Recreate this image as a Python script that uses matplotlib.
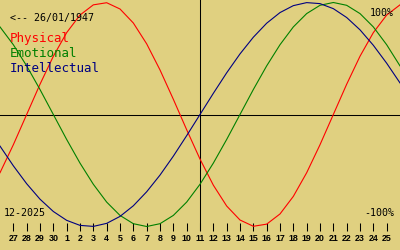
import numpy as np
import matplotlib.pyplot as plt

# days shown: 26 Nov .. 26 Dec 2025
day_labels = ['26', '27', '28', '29', '30', '1', '2', '3', '4', '5', '6', '7', '8', '9', '10',
              '11', '12', '13', '14', '15', '16', '17', '18', '19', '20', '21', '22', '23',
              '24', '25', '26']

physical = [-0.520, -0.270, 0.000, 0.270, 0.520, 0.731, 0.888, 0.979, 0.998, 0.942, 0.817,
            0.631, 0.398, 0.136, -0.136, -0.398, -0.631, -0.817, -0.942, -0.998, -0.979,
            -0.888, -0.731, -0.520, -0.270, 0.000, 0.270, 0.520, 0.731, 0.888, 0.979]
emotional = [0.782, 0.623, 0.434, 0.223, 0.000, -0.223, -0.434, -0.623, -0.782, -0.901,
             -0.975, -1.000, -0.975, -0.901, -0.782, -0.623, -0.434, -0.223, 0.000, 0.223,
             0.434, 0.623, 0.782, 0.901, 0.975, 1.000, 0.975, 0.901, 0.782, 0.623, 0.434]
intellectual = [-0.282, -0.458, -0.618, -0.756, -0.866, -0.945, -0.990, -0.999, -0.972,
                -0.910, -0.815, -0.690, -0.541, -0.372, -0.189, 0.000, 0.189, 0.372, 0.541,
                0.690, 0.815, 0.910, 0.972, 0.999, 0.990, 0.945, 0.866, 0.756, 0.618, 0.458,
                0.282]
today = 15  # 11 Dec

bg = '#e0d080'
x = np.arange(len(day_labels))

fig = plt.figure(figsize=(4, 2.5), dpi=100)
fig.patch.set_facecolor(bg)
ax = fig.add_axes([0, 19 / 250, 1, 231 / 250])
ax.set_facecolor(bg)
ax.set_xlim(0, 30)
ax.set_ylim(-(231 - 114.5) / 112, 114.5 / 112)

ax.axhline(0, color='black', lw=0.75, zorder=2)
ax.axvline(today, color='black', lw=0.75, zorder=2)

ax.plot(x, physical, color='#ff0000', lw=0.8, zorder=3)
ax.plot(x, emotional, color='#008000', lw=0.8, zorder=3)
ax.plot(x, intellectual, color='#000080', lw=0.8, zorder=3)

for s in ax.spines.values():
    s.set_visible(False)
ax.set_yticks([])
ax.set_xticks(x[1:30])
ax.set_xticklabels(day_labels[1:30], family=['Liberation Sans', 'DejaVu Sans'],
                   fontweight='bold')
ax.tick_params(axis='x', direction='in', length=6, width=0.75, pad=2.2, labelsize=6.4,
               color='black')

mono = 'DejaVu Sans Mono'
def t(px, py, s, c='black', size=7.2, ha='left'):
    fig.text(px / 400, 1 - py / 250, s, color=c, fontsize=size, family=mono,
             ha=ha, va='baseline', zorder=1)

t(10, 21, '<-- 26/01/1947')
t(10, 42, 'Physical', '#ff0000', 9)
t(10, 57, 'Emotional', '#008000', 9)
t(10, 72, 'Intellectual', '#000080', 9)
t(394, 16, '100%', ha='right')
t(394, 216, '-100%', ha='right')
t(4, 216, '12-2025')

fig.savefig('out.png', dpi=100, facecolor=bg)
